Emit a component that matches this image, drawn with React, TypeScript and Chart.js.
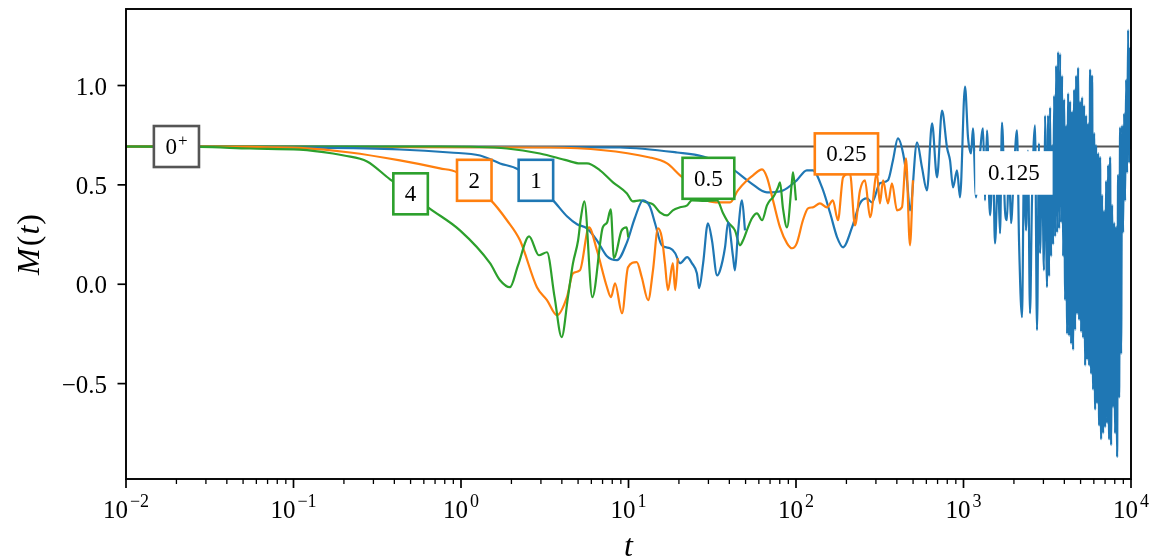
import React, { useEffect, useRef } from 'react';
import { Chart, registerables } from 'chart.js';

Chart.register(...registerables);

// ---------- data ----------
// g = 4 (green)
const T_G4 = [0.01, 0.0277, 0.055, 0.109, 0.172, 0.2, 0.275, 0.377, 0.496, 0.636, 0.986, 1.49, 1.71, 1.96, 2.19, 2.55, 2.92, 3.26, 3.62, 3.99, 4.35, 4.66, 5.0, 5.2, 5.45, 6.08, 7.02, 7.44, 7.83, 8.19, 9.10, 9.75, 9.97];
const M_G4 = [0.693, 0.691, 0.683, 0.677, 0.658, 0.648, 0.618, 0.528, 0.46, 0.387, 0.271, 0.106, 0.02, -0.015, 0.095, 0.241, 0.146, 0.161, -0.065, -0.266, -0.065, 0.105, 0.22, 0.336, 0.417, -0.065, 0.286, 0.31, 0.377, 0.131, 0.271, 0.286, 0.236];

// g = 2 (orange)
const T_O2 = [0.01, 0.055, 0.109, 0.2175, 0.432, 0.749, 0.946, 1.196, 1.51, 1.88, 2.25, 2.84, 3.26, 3.74, 4.29, 4.66, 5.13, 5.81, 6.48, 7.44, 7.86, 8.31, 9.15, 9.93, 11.2, 12.0, 13.1, 14.0, 15.0, 15.8, 16.5, 17.2, 18.4, 19.0, 19.7];
const M_O2 = [0.693, 0.691, 0.686, 0.663, 0.623, 0.583, 0.563, 0.492, 0.422, 0.322, 0.221, -0.015, -0.080, -0.156, -0.065, 0.055, 0.070, 0.286, 0.171, -0.015, -0.065, 0.005, -0.146, 0.085, 0.111, 0.035, -0.080, 0.070, 0.281, 0.236, 0.106, -0.030, 0.106, -0.030, 0.131];

// g = 1 (blue)
const T_B1 = [0.01, 0.109, 0.432, 0.86, 1.30, 1.71, 2.19, 2.77, 3.54, 4.29, 4.93, 5.65, 6.48, 7.44, 8.54, 9.79, 10.9, 12.2, 13.4, 14.4, 15.8, 17.7, 19.0, 20.3, 22.4, 23.9, 25.6, 26.4, 27.9, 29.8, 31.5, 33.8, 35.2, 37.7, 39.3, 42.1, 43.2, 45.0, 47.6, 49.6];
const M_B1 = [0.693, 0.688, 0.678, 0.663, 0.648, 0.608, 0.578, 0.497, 0.422, 0.342, 0.302, 0.281, 0.221, 0.141, 0.121, 0.211, 0.332, 0.422, 0.392, 0.307, 0.196, 0.181, 0.156, 0.106, 0.136, 0.106, 0.055, -0.020, 0.106, 0.307, 0.221, 0.045, 0.070, 0.186, 0.312, 0.136, 0.070, 0.256, 0.422, 0.271];

// g = 0.5 (green)
const T_G05 = [0.01, 0.749, 1.88, 2.96, 4.29, 5.13, 5.65, 6.76, 8.08, 9.79, 10.6, 11.7, 12.9, 14.0, 15.4, 17.0, 18.4, 20.3, 22.4, 23.9, 28.6, 33.8, 36.7, 39.3, 43.2, 46.3, 48.3, 51.7, 54.6, 58.5, 62.7, 67.1, 69.9, 72.9, 78.1, 80.3, 83.6, 88.4, 94.7, 96.0, 100];
const M_G05 = [0.693, 0.693, 0.683, 0.658, 0.623, 0.608, 0.608, 0.573, 0.513, 0.457, 0.417, 0.422, 0.412, 0.402, 0.362, 0.347, 0.372, 0.387, 0.397, 0.422, 0.42, 0.422, 0.357, 0.312, 0.271, 0.196, 0.221, 0.286, 0.332, 0.357, 0.322, 0.397, 0.422, 0.437, 0.487, 0.513, 0.382, 0.286, 0.523, 0.563, 0.422];

// g = 0.25 (orange)
const T_O025 = [0.01, 3.40, 13.4, 17.0, 20.3, 26.7, 29.4, 35.2, 40.4, 45.0, 51.0, 55.4, 62.7, 67.1, 72.9, 80.3, 88.4, 94.7, 101, 110, 118, 126, 139, 153, 166, 178, 191, 210, 225, 241, 258, 277, 304, 317, 331, 354, 374, 401, 429, 454, 479, 499];
const M_O025 = [0.693, 0.688, 0.638, 0.608, 0.548, 0.472, 0.422, 0.412, 0.412, 0.472, 0.523, 0.548, 0.578, 0.538, 0.422, 0.286, 0.206, 0.181, 0.206, 0.322, 0.382, 0.387, 0.407, 0.387, 0.422, 0.322, 0.538, 0.558, 0.296, 0.472, 0.523, 0.337, 0.558, 0.407, 0.523, 0.407, 0.508, 0.372, 0.387, 0.633, 0.196, 0.523];

// g = 0.125 (blue)
const T_B0125 = [
  0.01, 3.40, 8.90, 19.5, 27.9, 40.4, 53.1, 67.1, 83.6, 101,
  116, 126, 143, 160, 176, 191, 216, 241, 265, 284,
  317, 354, 379, 406, 436, 460, 479, 528, 565, 605,
  649, 695, 744, 797, 831, 866, 915, 953, 1021, 1064,
  1109, 1139, 1188, 1237, 1308, 1344, 1381, 1440, 1500, 1542,
  1607, 1652, 1698, 1769, 1818, 1869, 1921, 2002, 2086, 2145,
  2235, 2297, 2361, 2427, 2495, 2564, 2673, 2747, 2823, 2862,
  2942, 3024, 3067, 3152,
  3200, 3244, 3289, 3335, 3381, 3428, 3475, 3523, 3572, 3621,
  3671, 3722, 3774, 3826, 3879, 3933, 3987, 4042, 4098, 4155,
  4213, 4271, 4330, 4390, 4451, 4512, 4575, 4638, 4702, 4767,
  4833, 4900, 4968, 5037, 5107, 5177, 5249, 5322, 5395, 5470,
  5546, 5622, 5700, 5779, 5859, 5940, 6022, 6106, 6190, 6276,
  6363, 6451, 6540, 6631, 6722, 6815, 6910, 7005, 7102, 7201,
  7300, 7401, 7504, 7608, 7713, 7820, 7928, 8038, 8149, 8262,
  8376, 8492, 8610, 8729, 8850, 8972, 9096, 9222, 9350, 9479,
  9610, 9743, 9878, 10000,
];
const M_B0125 = [
  0.693, 0.690, 0.688, 0.663, 0.643, 0.588, 0.513, 0.462, 0.472, 0.523,
  0.573, 0.573, 0.487, 0.357, 0.236, 0.186, 0.286, 0.407, 0.432, 0.412,
  0.508, 0.523, 0.623, 0.734, 0.658, 0.523, 0.372, 0.714, 0.588, 0.472,
  0.809, 0.538, 0.874, 0.688, 0.623, 0.487, 0.573, 0.437, 0.995, 0.739,
  0.658, 0.784, 0.437, 0.598, 0.784, 0.422, 0.774, 0.347, 0.623, 0.206,
  0.548, 0.256, 0.814, 0.372, 0.322, 0.623, 0.307, 0.573, 0.774, 0.221,
  -0.166, 0.573, 0.271, 0.673, -0.146, 0.422, 0.799, -0.231, 0.709, 0.156,
  0.623, 0.070, 0.849, -0.015,
  0.85, 0.04, 0.89, 0.14, 0.70, 0.20, 0.95, 0.24, 1.10, 0.26,
  1.17, 0.28, 1.16, 0.31, 1.05, 0.14, 0.93, -0.08, 0.80, -0.25,
  0.96, -0.26, 0.92, -0.30, 0.87, -0.33, 0.98, -0.23, 1.05, -0.15,
  1.09, -0.18, 0.92, -0.24, 0.94, -0.27, 0.90, -0.41, 0.85, -0.38,
  0.81, -0.41, 1.08, -0.45, 1.05, -0.53, 0.76, -0.63, 0.70, -0.60,
  0.66, -0.71, 0.64, -0.78, 0.45, -0.75, 0.37, -0.72, 0.52, -0.70,
  0.60, -0.78, 0.64, -0.81, 0.40, -0.62, 0.31, -0.75, 0.29, -0.87,
  0.55, -0.57, 0.79, -0.35, 0.80, 0.26, 0.86, 0.42, 1.03, 0.56,
  1.28, 0.61, 1.19, 0.68,
];

// g -> 0+ (gray, constant)
const T_ZERO = [0.01, 10000];
const M_ZERO = [0.693, 0.693];

// axis ticks
const Y_TICKS = [-0.5, 0, 0.5, 1.0];
const Y_TICK_LABELS = ['\u22120.5', '0.0', '0.5', '1.0'];
const X_MAJOR_TICKS = [0.01, 0.1, 1, 10, 100, 1000, 10000];
const X_TICK_EXPONENTS = ['\u22122', '\u22121', '0', '1', '2', '3', '4'];
const X_MINOR_MULTIPLIERS = [2, 3, 4, 5, 6, 7, 8, 9];

// curve labels (text, anchor in data coordinates)
const LABEL_TEXTS = ['0', '4', '2', '1', '0.5', '0.25', '0.125'];
const LABEL_SUPS = ['+', '', '', '', '', '', ''];
const LABEL_T = [0.02, 0.5, 1.2, 2.8, 30, 200, 2000];
const LABEL_M = [0.693, 0.455, 0.523, 0.523, 0.533, 0.656, 0.56];

// ---------- styles ----------
const BLUE = '#1f77b4';
const ORANGE = '#ff7f0e';
const GREEN = '#2ca02c';
const GRAY = '#555555';
const LABEL_EDGES = [GRAY, GREEN, ORANGE, BLUE, GREEN, ORANGE, '#ffffff'];
const SERIF = '"Liberation Serif", "Times New Roman", serif';

const pts = (t: number[], m: number[]) => t.map((x, i) => ({ x, y: m[i] }));

const overlay = {
  id: 'overlay',
  afterDatasetsDraw(chart: any) {
    const { ctx, chartArea: a } = chart;
    const xs = chart.scales.x;
    const ys = chart.scales.y;
    ctx.save();

    // curve label boxes
    for (let i = 0; i < LABEL_TEXTS.length; i++) {
      const cx = xs.getPixelForValue(LABEL_T[i]);
      const cy = ys.getPixelForValue(LABEL_M[i]);
      ctx.font = `23px ${SERIF}`;
      const mw = ctx.measureText(LABEL_TEXTS[i]).width;
      let sw = 0;
      if (LABEL_SUPS[i]) {
        ctx.font = `17px ${SERIF}`;
        sw = ctx.measureText(LABEL_SUPS[i]).width + 1;
      }
      const tw = mw + sw;
      const w = tw + 23;
      const h = 41;
      ctx.fillStyle = '#ffffff';
      ctx.fillRect(cx - w / 2, cy - h / 2, w, h);
      ctx.strokeStyle = LABEL_EDGES[i];
      ctx.lineWidth = 2.6;
      ctx.strokeRect(cx - w / 2, cy - h / 2, w, h);
      ctx.fillStyle = '#000000';
      ctx.textAlign = 'left';
      ctx.textBaseline = 'alphabetic';
      ctx.font = `23px ${SERIF}`;
      ctx.fillText(LABEL_TEXTS[i], cx - tw / 2, cy + 7.5);
      if (LABEL_SUPS[i]) {
        ctx.font = `17px ${SERIF}`;
        ctx.fillText(LABEL_SUPS[i], cx - tw / 2 + mw + 1, cy - 1);
      }
    }

    // frame
    ctx.strokeStyle = '#000000';
    ctx.lineWidth = 1.9;
    ctx.strokeRect(a.left, a.top, a.right - a.left, a.bottom - a.top);

    // y ticks + labels
    ctx.font = `25px ${SERIF}`;
    ctx.textAlign = 'right';
    ctx.textBaseline = 'alphabetic';
    ctx.fillStyle = '#000000';
    for (let i = 0; i < Y_TICKS.length; i++) {
      const py = ys.getPixelForValue(Y_TICKS[i]);
      ctx.beginPath();
      ctx.lineWidth = 1.7;
      ctx.moveTo(a.left - 8.5, py);
      ctx.lineTo(a.left, py);
      ctx.stroke();
      ctx.fillText(Y_TICK_LABELS[i], a.left - 19, py + 9);
    }

    // x ticks
    for (let i = 0; i < X_MAJOR_TICKS.length; i++) {
      const px = xs.getPixelForValue(X_MAJOR_TICKS[i]);
      ctx.beginPath();
      ctx.lineWidth = 1.7;
      ctx.moveTo(px, a.bottom);
      ctx.lineTo(px, a.bottom + 9);
      ctx.stroke();
      if (i < X_MAJOR_TICKS.length - 1) {
        for (const k of X_MINOR_MULTIPLIERS) {
          const mx = xs.getPixelForValue(X_MAJOR_TICKS[i] * k);
          ctx.beginPath();
          ctx.lineWidth = 1.3;
          ctx.moveTo(mx, a.bottom);
          ctx.lineTo(mx, a.bottom + 5);
          ctx.stroke();
        }
      }
      ctx.textAlign = 'left';
      ctx.font = `25px ${SERIF}`;
      const bw = ctx.measureText('10').width;
      ctx.font = `18px ${SERIF}`;
      const ew = ctx.measureText(X_TICK_EXPONENTS[i]).width;
      const sx = px - (bw + 2 + ew) / 2;
      ctx.font = `25px ${SERIF}`;
      ctx.fillText('10', sx, a.bottom + 39);
      ctx.font = `18px ${SERIF}`;
      ctx.fillText(X_TICK_EXPONENTS[i], sx + bw + 2, a.bottom + 28);
    }

    // x axis title: t
    ctx.font = `italic 32px ${SERIF}`;
    ctx.textAlign = 'center';
    ctx.fillText('t', (a.left + a.right) / 2, 556);

    // y axis title: M(t)
    ctx.save();
    ctx.translate(28, (a.top + a.bottom) / 2);
    ctx.rotate(-Math.PI / 2);
    const parts: [string, boolean][] = [['M', true], ['(', false], ['t', true], [')', false]];
    let total = 0;
    const widths: number[] = [];
    for (const [s, it] of parts) {
      ctx.font = `${it ? 'italic ' : ''}32px ${SERIF}`;
      const wdt = ctx.measureText(s).width + (s === 'M' ? 2 : 1);
      widths.push(wdt);
      total += wdt;
    }
    let off = -total / 2;
    ctx.textAlign = 'left';
    parts.forEach(([s, it], i) => {
      ctx.font = `${it ? 'italic ' : ''}32px ${SERIF}`;
      ctx.fillText(s, off, 11);
      off += widths[i];
    });
    ctx.restore();

    ctx.restore();
  },
};

export default function App() {
  const ref = useRef<HTMLCanvasElement | null>(null);

  useEffect(() => {
    if (!ref.current) return;
    const line = (t: number[], m: number[], color: string, w = 2.2) => ({
      data: pts(t, m),
      borderColor: color,
      backgroundColor: color,
      borderWidth: w,
      pointRadius: 0,
      fill: false,
      cubicInterpolationMode: 'monotone' as const,
    });
    const chart = new Chart(ref.current, {
      type: 'line',
      data: {
        datasets: [
          line(T_G4, M_G4, GREEN),
          line(T_O2, M_O2, ORANGE),
          line(T_B1, M_B1, BLUE),
          line(T_G05, M_G05, GREEN),
          line(T_O025, M_O025, ORANGE),
          line(T_B0125, M_B0125, BLUE),
          line(T_ZERO, M_ZERO, GRAY, 2),
        ],
      },
      options: {
        animation: false,
        responsive: false,
        devicePixelRatio: 1,
        parsing: false as any,
        layout: { padding: { left: 126, right: 29, top: 9, bottom: 80 } },
        plugins: { legend: { display: false }, tooltip: { enabled: false } },
        events: [],
        scales: {
          x: { type: 'logarithmic', min: 0.01, max: 10000, display: false },
          y: { type: 'linear', min: -0.98, max: 1.385, display: false },
        },
      },
      plugins: [overlay],
    });
    return () => chart.destroy();
  }, []);

  return (
    <div style={{ position: 'fixed', left: 0, top: 0, width: 1160, height: 559, background: '#ffffff' }}>
      <canvas ref={ref} width={1160} height={559} style={{ display: 'block' }} />
    </div>
  );
}
